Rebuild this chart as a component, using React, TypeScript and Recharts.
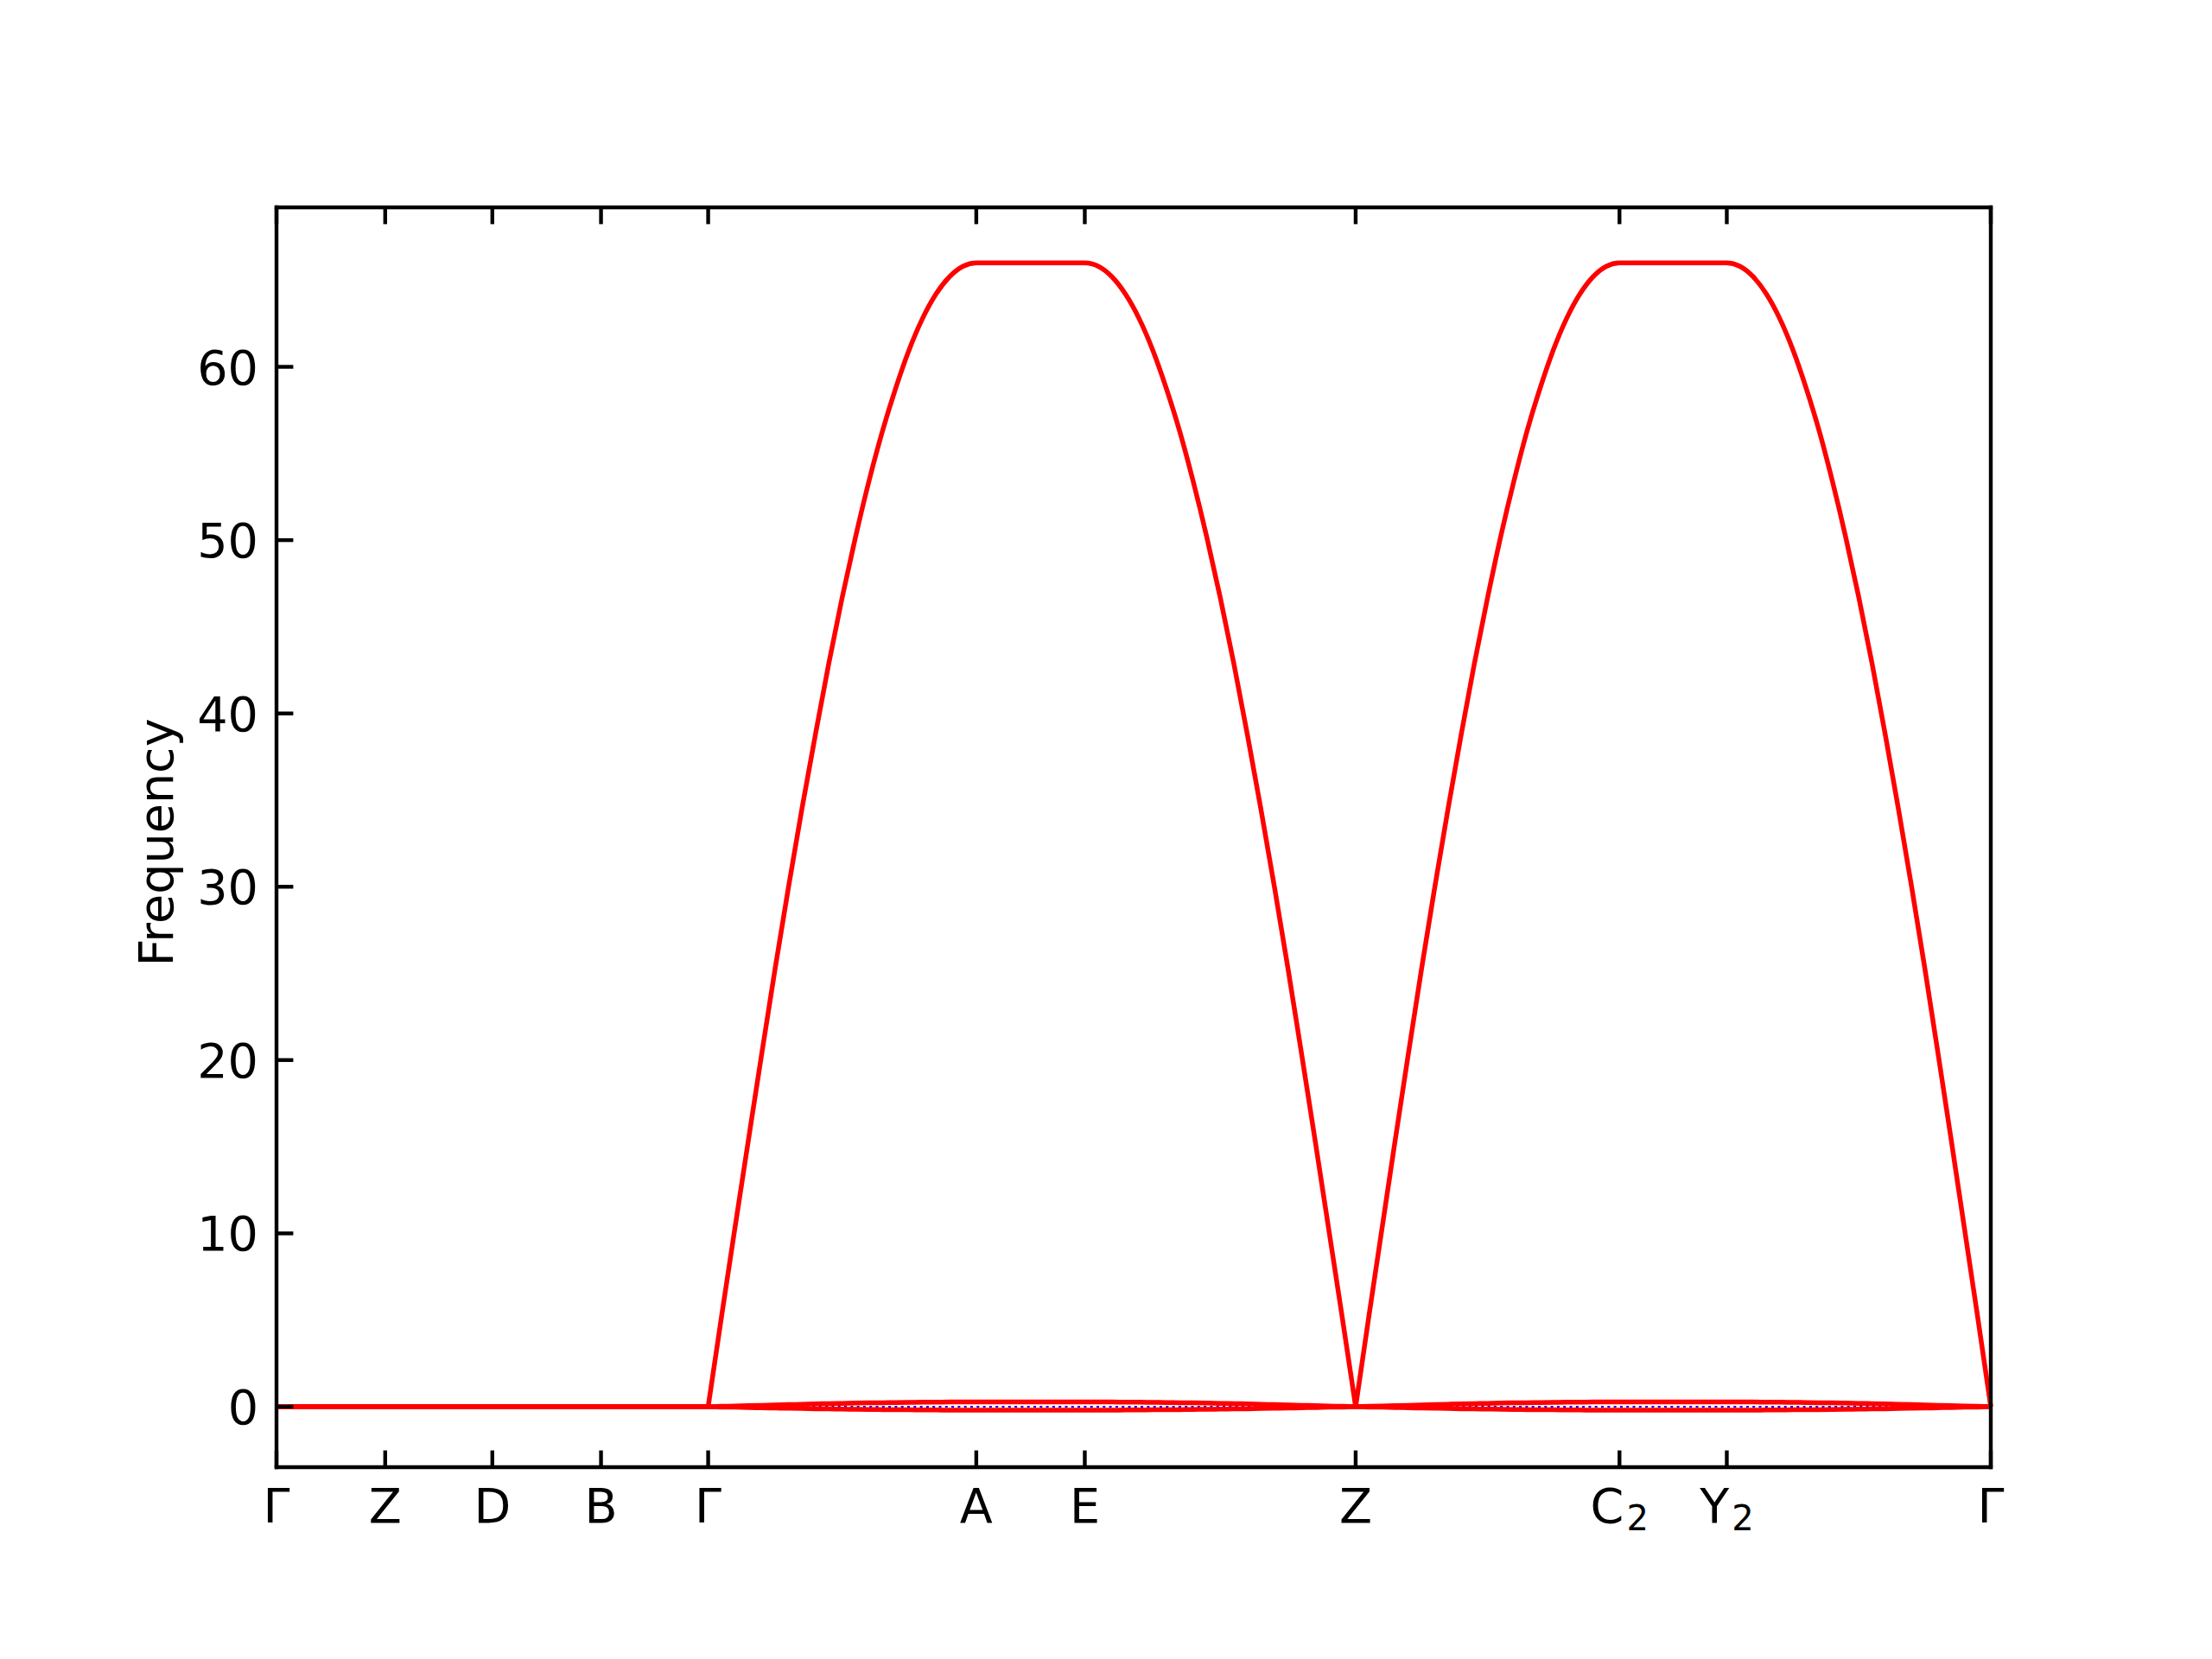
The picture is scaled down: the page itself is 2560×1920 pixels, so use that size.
import React from 'react';
import { LineChart, Line, XAxis, YAxis } from 'recharts';

// High-symmetry path positions (fraction of total path length) and their labels
const kTickPositions = [0, 0.0634, 0.1259, 0.1893, 0.2518, 0.4082, 0.4715, 0.6295, 0.7834, 0.846, 1.0];
const kTickLabels = ['Γ', 'Z', 'D', 'B', 'Γ', 'A', 'E', 'Z', 'C_2', 'Y_2', 'Γ'];

// Frequency ticks
const freqTicks = [0, 10, 20, 30, 40, 50, 60];
const freqDomain = [-3.49, 69.2];

// Sampled path coordinate
const kPath = [
  0, 0.0634, 0.1259, 0.1893,
  0.2518, 0.2596, 0.2674, 0.2753, 0.2831, 0.2909, 0.2987, 0.3065, 0.3144, 0.3222, 0.3300,
  0.3378, 0.3456, 0.3535, 0.3613, 0.3691, 0.3769, 0.3847, 0.3926, 0.4004, 0.4082,
  0.4715, 0.4794, 0.4873, 0.4952, 0.5031, 0.5110, 0.5189, 0.5268, 0.5347, 0.5426, 0.5505,
  0.5584, 0.5663, 0.5742, 0.5821, 0.5900, 0.5979, 0.6058, 0.6137, 0.6216, 0.6295,
  0.6372, 0.6449, 0.6526, 0.6603, 0.6680, 0.6757, 0.6834, 0.6911, 0.6988, 0.7065,
  0.7141, 0.7218, 0.7295, 0.7372, 0.7449, 0.7526, 0.7603, 0.7680, 0.7757, 0.7834,
  0.8460, 0.8537, 0.8614, 0.8691, 0.8768, 0.8845, 0.8922, 0.8999, 0.9076, 0.9153, 0.9230,
  0.9307, 0.9384, 0.9461, 0.9538, 0.9615, 0.9692, 0.9769, 0.9846, 0.9923, 1.0,
];

// Upper (large) band
const opticalBand = [
  0, 0, 0, 0,
  0, 5.2, 10.3, 15.4, 20.4, 25.3, 30.0, 34.5, 38.8, 42.9, 46.7,
  50.2, 53.4, 56.3, 58.8, 61.0, 62.8, 64.2, 65.2, 65.8, 66.0,
  66.0, 65.8, 65.2, 64.2, 62.8, 61.0, 58.8, 56.3, 53.4, 50.2, 46.7,
  42.9, 38.8, 34.5, 30.0, 25.3, 20.4, 15.4, 10.3, 5.2, 0,
  5.2, 10.3, 15.4, 20.4, 25.3, 30.0, 34.5, 38.8, 42.9, 46.7,
  50.2, 53.4, 56.3, 58.8, 61.0, 62.8, 64.2, 65.2, 65.8, 66.0,
  66.0, 65.8, 65.2, 64.2, 62.8, 61.0, 58.8, 56.3, 53.4, 50.2, 46.7,
  42.9, 38.8, 34.5, 30.0, 25.3, 20.4, 15.4, 10.3, 5.2, 0,
];

// Small band just above zero
const acousticUpper = [
  0, 0, 0, 0,
  0, 0.02, 0.04, 0.06, 0.08, 0.10, 0.12, 0.14, 0.16, 0.18, 0.19,
  0.21, 0.22, 0.23, 0.24, 0.25, 0.26, 0.26, 0.27, 0.27, 0.27,
  0.27, 0.27, 0.27, 0.26, 0.26, 0.25, 0.24, 0.23, 0.22, 0.21, 0.19,
  0.18, 0.16, 0.14, 0.12, 0.10, 0.08, 0.06, 0.04, 0.02, 0,
  0.02, 0.04, 0.06, 0.08, 0.10, 0.12, 0.14, 0.16, 0.18, 0.19,
  0.21, 0.22, 0.23, 0.24, 0.25, 0.26, 0.26, 0.27, 0.27, 0.27,
  0.27, 0.27, 0.27, 0.26, 0.26, 0.25, 0.24, 0.23, 0.22, 0.21, 0.19,
  0.18, 0.16, 0.14, 0.12, 0.10, 0.08, 0.06, 0.04, 0.02, 0,
];

// Small band just below zero
const acousticLower = [
  0, 0, 0, 0,
  0, -0.02, -0.03, -0.05, -0.06, -0.08, -0.09, -0.10, -0.12, -0.13, -0.14,
  -0.15, -0.16, -0.17, -0.18, -0.18, -0.19, -0.19, -0.20, -0.20, -0.20,
  -0.20, -0.20, -0.20, -0.19, -0.19, -0.18, -0.18, -0.17, -0.16, -0.15, -0.14,
  -0.13, -0.12, -0.10, -0.09, -0.08, -0.06, -0.05, -0.03, -0.02, 0,
  -0.02, -0.03, -0.05, -0.06, -0.08, -0.09, -0.10, -0.12, -0.13, -0.14,
  -0.15, -0.16, -0.17, -0.18, -0.18, -0.19, -0.19, -0.20, -0.20, -0.20,
  -0.20, -0.20, -0.20, -0.19, -0.19, -0.18, -0.18, -0.17, -0.16, -0.15, -0.14,
  -0.13, -0.12, -0.10, -0.09, -0.08, -0.06, -0.05, -0.03, -0.02, 0,
];

const zeroLevel = 0;

// Branch boundaries (Γ, Z, Γ) used to split the large band at its cusps
const gamma1 = kTickPositions[4];
const zMid = kTickPositions[7];
const gamma2 = kTickPositions[10];

const inRange = (k: number, a: number, b: number) => k >= a - 1e-9 && k <= b + 1e-9;

const rows = kPath.map((k, i) => ({
  k,
  flat: inRange(k, 0, gamma1) ? opticalBand[i] : null,
  humpA: inRange(k, gamma1, zMid) ? opticalBand[i] : null,
  humpB: inRange(k, zMid, gamma2) ? opticalBand[i] : null,
  upperA: inRange(k, 0, zMid) ? acousticUpper[i] : null,
  upperB: inRange(k, zMid, gamma2) ? acousticUpper[i] : null,
  lowerA: inRange(k, 0, zMid) ? acousticLower[i] : null,
  lowerB: inRange(k, zMid, gamma2) ? acousticLower[i] : null,
  zero: zeroLevel,
}));

const FONT = 'DejaVu Sans';
const FS = 55.6;
const TICK_LEN = 19.4;
const AXIS_W = 4.4;
const RED = '#ff0000';

const LeftTick = (props: any) => {
  const { x, y, payload } = props;
  return (
    <g>
      <line x1={x} x2={x + TICK_LEN} y1={y} y2={y} stroke="#000" strokeWidth={AXIS_W} />
      <text x={x - 21} y={y + 20} textAnchor="end" fontFamily={FONT} fontSize={FS} fill="#000">
        {payload.value}
      </text>
    </g>
  );
};

const RightTick = (props: any) => {
  const { x, y } = props;
  return <line x1={x} x2={x - TICK_LEN} y1={y} y2={y} stroke="#000" strokeWidth={AXIS_W} />;
};

const TopTick = (props: any) => {
  const { x, y } = props;
  return <line x1={x} x2={x} y1={y} y2={y + TICK_LEN} stroke="#000" strokeWidth={AXIS_W} />;
};

const BottomTick = (props: any) => {
  const { x, y, index } = props;
  const label = kTickLabels[index] ?? '';
  const [main, sub] = label.split('_');
  return (
    <g>
      <line x1={x} x2={x} y1={y} y2={y - TICK_LEN} stroke="#000" strokeWidth={AXIS_W} />
      <text x={x} y={y + 64} textAnchor="middle" fontFamily={FONT} fontSize={FS} fill="#000">
        <tspan>{main}</tspan>
        {sub ? (
          <tspan dx={3} dy={9} fontSize={FS * 0.72}>
            {sub}
          </tspan>
        ) : null}
      </text>
    </g>
  );
};

const FreqLabel = (props: any) => {
  const vb = props.viewBox || {};
  const cx = vb.x + vb.width - 120;
  const cy = vb.y + vb.height / 2 + 6;
  return (
    <text
      x={cx}
      y={cy}
      transform={`rotate(-90 ${cx} ${cy})`}
      textAnchor="middle"
      fontFamily={FONT}
      fontSize={FS}
      fill="#000"
    >
      Frequency
    </text>
  );
};

const axisLineStyle = { stroke: '#000', strokeWidth: AXIS_W, strokeLinecap: 'square' as const };

const bandKeys = ['lowerA', 'lowerB', 'upperA', 'upperB', 'flat', 'humpA', 'humpB'];

export default function App() {
  return (
    <div style={{ position: 'absolute', left: 0, top: 0, width: 2560, height: 1920, background: '#fff' }}>
      <LineChart
        width={2560}
        height={1920}
        data={rows}
        margin={{ top: 230, right: 246, bottom: 212, left: 220 }}
      >
        <XAxis
          xAxisId="b"
          dataKey="k"
          type="number"
          domain={[0, 1]}
          ticks={kTickPositions}
          interval={0}
          orientation="bottom"
          height={10}
          tickSize={0}
          tickMargin={0}
          tickLine={false}
          axisLine={axisLineStyle}
          tick={<BottomTick />}
        />
        <XAxis
          xAxisId="t"
          dataKey="k"
          type="number"
          domain={[0, 1]}
          ticks={kTickPositions}
          interval={0}
          orientation="top"
          height={10}
          tickSize={0}
          tickMargin={0}
          tickLine={false}
          axisLine={axisLineStyle}
          tick={<TopTick />}
        />
        <YAxis
          yAxisId="l"
          type="number"
          domain={freqDomain}
          ticks={freqTicks}
          interval={0}
          orientation="left"
          width={100}
          tickSize={0}
          tickMargin={0}
          tickLine={false}
          axisLine={axisLineStyle}
          tick={<LeftTick />}
          label={FreqLabel}
        />
        <YAxis
          yAxisId="r"
          type="number"
          domain={freqDomain}
          ticks={freqTicks}
          interval={0}
          orientation="right"
          width={10}
          tickSize={0}
          tickMargin={0}
          tickLine={false}
          axisLine={axisLineStyle}
          tick={<RightTick />}
        />
        <Line
          xAxisId="b"
          yAxisId="l"
          dataKey="zero"
          type="linear"
          stroke="#0000ff"
          strokeWidth={2.2}
          strokeDasharray="3 4.3"
          dot={false}
          activeDot={false}
          isAnimationActive={false}
        />
        {bandKeys.map((key) => (
          <Line
            key={key}
            xAxisId="b"
            yAxisId="l"
            dataKey={key}
            type="monotone"
            connectNulls={false}
            stroke={RED}
            strokeWidth={5.5}
            strokeLinejoin="round"
            dot={false}
            activeDot={false}
            isAnimationActive={false}
          />
        ))}
      </LineChart>
    </div>
  );
}
